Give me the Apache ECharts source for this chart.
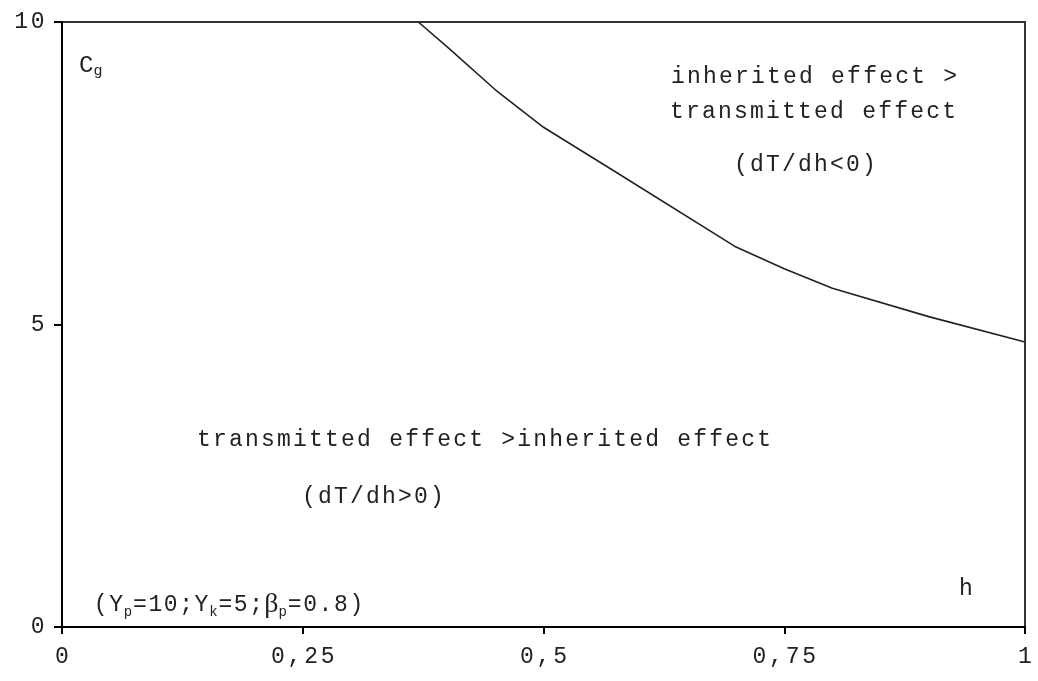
<!DOCTYPE html>
<html>
<head>
<meta charset="utf-8">
<script src="https://cdn.jsdelivr.net/npm/echarts@6/dist/echarts.min.js"></script>
<style>
html,body{margin:0;padding:0;background:#fff;}
#chart{width:1038px;height:681px;}
</style>
</head>
<body>
<div id="chart"></div>
<script>
// Boundary curve C_g(h) separating the two regions
const hValues  = [0.37, 0.40, 0.45, 0.50, 0.575, 0.70, 0.75, 0.80, 0.90, 1.00];
const cgValues = [10.0, 9.59, 8.88, 8.26, 7.52, 6.28, 5.92, 5.60, 5.13, 4.71];
const xTickLabels = {0: '0', 0.25: '0,25', 0.5: '0,5', 0.75: '0,75', 1: '1'};
const yTickLabels = {0: '0', 5: '5', 10: '10'};

const chart = echarts.init(document.getElementById('chart'), null, {renderer: 'canvas'});
const mono = '"Liberation Mono", "DejaVu Sans Mono", monospace';
const ink = '#222';

// letter-spaced rich text helper
function sp(s, st) {
  return s.split('').map(c => '{' + st + '|' + c + '}').join('');
}
const annRich = {
  a: {fontFamily: mono, fontSize: 23, fill: ink, color: ink, padding: [0, 1.1, 0, 1.1]},
  s: {fontFamily: mono, fontSize: 14, fill: ink, color: ink, verticalAlign: 'bottom', padding: [10, 0, 0, 0]},
  b: {fontFamily: '"Liberation Serif", serif', fontSize: 28, fill: ink, color: ink, padding: [0, 0, 0, 0.5]}
};
const annRichTight = {
  a: {fontFamily: mono, fontSize: 23, fill: ink, color: ink, padding: [0, 0.8, 0, 0.8]},
  s: annRich.s,
  b: annRich.b
};
const tickRich = {t: {fontFamily: mono, fontSize: 23, color: ink, padding: [0, 1.4, 0, 1.4]}};

const curve = hValues.map((h, i) => [h, cgValues[i]]);

function annText(x, y, str) {
  return {type: 'text', x: x, y: y, style: {text: sp(str, 'a'), rich: annRich, align: 'left', verticalAlign: 'middle'}};
}

chart.setOption({
  animation: false,
  backgroundColor: '#ffffff',
  grid: {left: 62, right: 13, top: 22, bottom: 54, show: true, borderColor: '#333', borderWidth: 2, backgroundColor: 'transparent'},
  xAxis: {
    type: 'value', min: 0, max: 1, interval: 0.25,
    splitLine: {show: false},
    axisLine: {show: true, onZero: false, lineStyle: {color: '#000', width: 2}},
    axisTick: {show: true, length: 7, lineStyle: {color: '#000', width: 2}},
    axisLabel: {margin: 18, rich: tickRich,
      formatter: v => xTickLabels[v] !== undefined ? sp(xTickLabels[v], 't') : ''}
  },
  yAxis: {
    type: 'value', min: 0, max: 10, interval: 5,
    splitLine: {show: false},
    axisLine: {show: true, onZero: false, lineStyle: {color: '#000', width: 2}},
    axisTick: {show: true, length: 8, lineStyle: {color: '#000', width: 2}},
    axisLabel: {margin: 16, rich: tickRich,
      formatter: v => yTickLabels[v] !== undefined ? sp(yTickLabels[v], 't') : ''}
  },
  series: [{
    type: 'line',
    data: curve,
    showSymbol: false,
    smooth: false,
    lineStyle: {color: '#222', width: 1.6},
    silent: true
  }],
  graphic: [
    {type: 'text', x: 79, y: 66, style: {
      text: '{m|C}{s|g}', align: 'left', verticalAlign: 'middle',
      rich: {m: {fontFamily: mono, fontSize: 24, fill: ink}, s: {fontFamily: mono, fontSize: 15, fill: ink, verticalAlign: 'bottom', padding: [10, 0, 0, 0]}}}},
    annText(670, 77, 'inherited effect >'),
    annText(669, 112, 'transmitted effect'),
    annText(733, 165, '(dT/dh<0)'),
    annText(196, 440, 'transmitted effect >inherited effect'),
    annText(301, 497, '(dT/dh>0)'),
    annText(958, 589, 'h'),
    {type: 'text', x: 93, y: 605, style: {
      text: sp('(Y', 'a') + '{s|p}' + sp('=10;Y', 'a') + '{s|k}' + sp('=5;', 'a') + '{b|β}{s|p}' + sp('=0.8)', 'a'),
      verticalAlign: 'middle', align: 'left', rich: annRichTight}}
  ]
});
</script>
</body>
</html>
